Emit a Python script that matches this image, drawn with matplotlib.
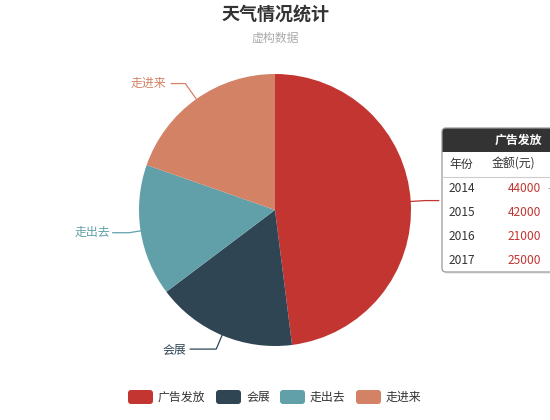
import matplotlib
matplotlib.use('Agg')
import matplotlib.pyplot as plt
from matplotlib.patches import FancyBboxPatch, Rectangle
import numpy as np

plt.rcParams['font.family'] = ['Noto Sans CJK SC', 'DejaVu Sans']

# 数据
names = ['广告发放', '会展', '走出去', '走进来']
values = [132000, 46000, 43000, 54000]
colors = ['#c23531', '#2f4554', '#61a0a8', '#d48265']

# 提示框里的明细
years = ['2014', '2015', '2016', '2017']
amounts = [44000, 42000, 21000, 25000]

W, H = 550, 420
fig = plt.figure(figsize=(5.5, 4.2), dpi=100)
ax = fig.add_axes([0, 0, 1, 1])

def Y(py):
    # 像素坐标(向下) -> 数据坐标(向上)
    return H - py

cx, cy, r = 275, 210, 136
wedges, _ = ax.pie(values, colors=colors, startangle=90, counterclock=False,
                   radius=r, center=(cx, Y(cy)),
                   wedgeprops=dict(linewidth=0))
ax.set_xlim(0, W)
ax.set_ylim(0, H)
ax.set_aspect('equal')
ax.axis('off')

# 标签和引导线 (引导线长度按图里调的)
len1 = [14, 15, 12, 19]
len2 = [14, 26, 16, 14]
gap = [4, 4, 3, 5]
total = sum(values)
cum = 0
for i, (name, v, c) in enumerate(zip(names, values, colors)):
    mid = (cum + v / 2) / total * 2 * np.pi   # 顺时针, 从正上方
    cum += v
    dx, dy = np.sin(mid), np.cos(mid)
    x1, y1 = cx + dx * r, Y(cy) + dy * r
    x2, y2 = cx + dx * (r + len1[i]), Y(cy) + dy * (r + len1[i])
    s = 1 if dx >= 0 else -1
    x3 = x2 + s * len2[i]
    ax.plot([x1, x2, x3], [y1, y2, y2], color=c, lw=0.9, zorder=2)
    if i == 0:
        continue  # 这个标签被提示框挡住了
    ax.text(x3 + s * gap[i], y2, name, color=c, fontsize=8.6,
            ha='left' if s > 0 else 'right', va='center', zorder=2)

# 标题
ax.text(cx, Y(14), '天气情况统计', fontsize=13, fontweight='bold',
        color='#333333', ha='center', va='center')
ax.text(cx, Y(38), '虚构数据', fontsize=8.6, color='#aaaaaa',
        ha='center', va='center')

# 图例
leg_x = [128, 216, 280, 356]
for lx, name, c in zip(leg_x, names, colors):
    ax.add_patch(FancyBboxPatch((lx + 3, Y(397) - 4), 19, 8,
                                boxstyle='round,pad=3', fc=c, ec='none'))
    ax.text(lx + 30, Y(397), name, fontsize=8.6, color='#333333',
            ha='left', va='center')

# 提示框
tx0, ty0, tw, th = 442, 128, 140, 144
ax.add_patch(FancyBboxPatch((tx0 + 2, Y(ty0 + th) - 2), tw, th,
                            boxstyle='round,pad=0,rounding_size=4',
                            fc='#000000', ec='none', alpha=0.08, zorder=5))
ax.add_patch(FancyBboxPatch((tx0, Y(ty0 + th)), tw, th,
                            boxstyle='round,pad=0,rounding_size=4',
                            fc='white', ec='none', zorder=6))
ax.add_patch(FancyBboxPatch((tx0, Y(152)), tw, 24,
                            boxstyle='round,pad=0,rounding_size=4',
                            fc='#333333', ec='none', zorder=7))
ax.add_patch(Rectangle((tx0, Y(152)), tw, 6, fc='#333333', ec='none', zorder=7))
ax.add_patch(FancyBboxPatch((tx0, Y(ty0 + th)), tw, th,
                            boxstyle='round,pad=0,rounding_size=4',
                            fc='none', ec='#9a9a9a', lw=0.9, zorder=8))
ax.text(518, Y(140), '广告发放', color='white', fontsize=8.6,
        fontweight='bold', ha='center', va='center', zorder=9)
ax.text(449, Y(164), '年份', color='#333333', fontsize=8.6,
        ha='left', va='center', zorder=9)
ax.text(492, Y(164), '金额(元)', color='#333333', fontsize=8.6,
        ha='left', va='center', zorder=9)
ax.plot([tx0, tx0 + tw], [Y(177), Y(177)], color='#cccccc', lw=0.8, zorder=9)
row_y = [189, 213, 237, 261]
for yr, amt, ry in zip(years, amounts, row_y):
    ax.text(449, Y(ry), yr, color='#333333', fontsize=8.6,
            ha='left', va='center', zorder=9)
    ax.text(541, Y(ry), str(amt), color='#c23531', fontsize=8.6,
            ha='right', va='center', zorder=9)
ax.text(547, Y(189), '-', color='#999999', fontsize=8.6,
        ha='left', va='center', zorder=9)

fig.savefig('out.png', dpi=100)
